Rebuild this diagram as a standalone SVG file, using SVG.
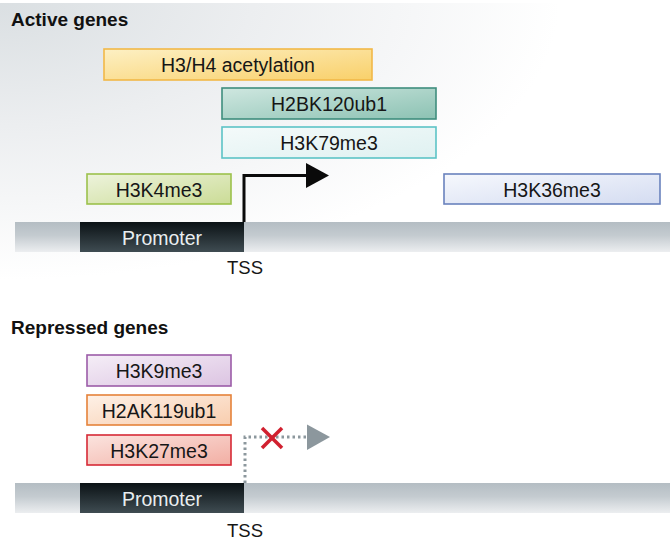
<svg xmlns="http://www.w3.org/2000/svg" width="672" height="542" viewBox="0 0 672 542">
<style>
  .title{font-family:"Liberation Sans",Arial,sans-serif;font-weight:bold;font-size:19px;fill:#111}
  .lbl{font-family:"Liberation Sans",Arial,sans-serif;font-size:19.5px;fill:#161616;text-anchor:middle}
  .prom{font-family:"Liberation Sans",Arial,sans-serif;font-size:19.5px;fill:#e9eef0;text-anchor:middle}
  .tss{font-family:"Liberation Sans",Arial,sans-serif;font-size:18.5px;fill:#161616;text-anchor:middle}
  .box{stroke-width:1.6}
</style>
<defs>
  <radialGradient id="bg" gradientUnits="userSpaceOnUse" cx="0" cy="0" r="560" gradientTransform="scale(1 0.5)">
    <stop offset="0" stop-color="#dadfe2"/>
    <stop offset="0.45" stop-color="#eceef0"/>
    <stop offset="1" stop-color="#ffffff"/>
  </radialGradient>
  <linearGradient id="bar" x1="0" y1="0" x2="0" y2="1">
    <stop offset="0" stop-color="#b4bdc3"/>
    <stop offset="0.45" stop-color="#c4cbd0"/>
    <stop offset="1" stop-color="#eceef0"/>
  </linearGradient>
  <linearGradient id="promg" x1="0" y1="0" x2="0" y2="1">
    <stop offset="0" stop-color="#0b1215"/>
    <stop offset="1" stop-color="#3f4c52"/>
  </linearGradient>
  <linearGradient id="gY" x1="0" y1="0" x2="1" y2="1"><stop offset="0" stop-color="#fdf0c4"/><stop offset="1" stop-color="#f9d06a"/></linearGradient>
  <linearGradient id="gT" x1="0" y1="0" x2="1" y2="1"><stop offset="0" stop-color="#cfe7e0"/><stop offset="1" stop-color="#8cc2b3"/></linearGradient>
  <linearGradient id="gC" x1="0" y1="0" x2="1" y2="1"><stop offset="0" stop-color="#f4fafa"/><stop offset="1" stop-color="#dff1f1"/></linearGradient>
  <linearGradient id="gG" x1="0" y1="0" x2="1" y2="1"><stop offset="0" stop-color="#edf3dc"/><stop offset="1" stop-color="#cbdc96"/></linearGradient>
  <linearGradient id="gB" x1="0" y1="0" x2="1" y2="1"><stop offset="0" stop-color="#f6f8fd"/><stop offset="1" stop-color="#d4dcf1"/></linearGradient>
  <linearGradient id="gP" x1="0" y1="0" x2="1" y2="1"><stop offset="0" stop-color="#f5eef7"/><stop offset="1" stop-color="#dcc4e2"/></linearGradient>
  <linearGradient id="gO" x1="0" y1="0" x2="1" y2="1"><stop offset="0" stop-color="#fef1e7"/><stop offset="1" stop-color="#f8cdae"/></linearGradient>
  <linearGradient id="gR" x1="0" y1="0" x2="1" y2="1"><stop offset="0" stop-color="#fbe4df"/><stop offset="1" stop-color="#f2aea3"/></linearGradient>
</defs>

<rect x="0" y="0" width="672" height="542" fill="#ffffff"/>
<rect x="0" y="3" width="672" height="300" fill="url(#bg)"/>
<rect x="0" y="312" width="672" height="230" fill="url(#bg)"/>

<text class="title" x="11" y="26">Active genes</text>
<text class="title" x="11" y="334">Repressed genes</text>

<!-- Active section -->
<g id="dna-active">
  <rect x="15" y="222" width="655" height="30" fill="url(#bar)"/>
  <rect x="80" y="222" width="164" height="30" fill="url(#promg)"/>
  <text class="prom" x="162" y="245">Promoter</text>
  <text class="tss" x="245" y="274">TSS</text>
</g>
<g id="h3h4ac">
  <rect class="box" x="104" y="49" width="268" height="31" fill="url(#gY)" stroke="#f2b848"/>
  <text class="lbl" x="238" y="71.5">H3/H4 acetylation</text>
</g>
<g id="h2bk120ub1">
  <rect class="box" x="222" y="88" width="214" height="31" fill="url(#gT)" stroke="#3f8e7e"/>
  <text class="lbl" x="329" y="110.5">H2BK120ub1</text>
</g>
<g id="h3k79me3">
  <rect class="box" x="222" y="127" width="214" height="31" fill="url(#gC)" stroke="#5cc3c6"/>
  <text class="lbl" x="329" y="149.5">H3K79me3</text>
</g>
<g id="h3k4me3">
  <rect class="box" x="87" y="174" width="144" height="30" fill="url(#gG)" stroke="#9cc14c"/>
  <text class="lbl" x="159" y="196.5">H3K4me3</text>
</g>
<g id="h3k36me3">
  <rect class="box" x="444" y="174" width="216" height="30" fill="url(#gB)" stroke="#6a82bd"/>
  <text class="lbl" x="552" y="196.5">H3K36me3</text>
</g>

<!-- Repressed section -->
<g id="dna-repressed">
  <rect x="15" y="483" width="655" height="30" fill="url(#bar)"/>
  <rect x="80" y="483" width="164" height="30" fill="url(#promg)"/>
  <text class="prom" x="162" y="506">Promoter</text>
  <text class="tss" x="245" y="537">TSS</text>
</g>
<g id="h3k9me3">
  <rect class="box" x="87" y="355" width="144" height="31" fill="url(#gP)" stroke="#9c5ca8"/>
  <text class="lbl" x="159" y="377.5">H3K9me3</text>
</g>
<g id="h2ak119ub1">
  <rect class="box" x="87" y="395" width="144" height="30" fill="url(#gO)" stroke="#e5823a"/>
  <text class="lbl" x="159" y="417.5">H2AK119ub1</text>
</g>
<g id="h3k27me3">
  <rect class="box" x="87" y="435" width="144" height="30" fill="url(#gR)" stroke="#d62a36"/>
  <text class="lbl" x="159" y="457.5">H3K27me3</text>
</g>

<g id="connectors">
  <path d="M244,222 V175.5 H308" fill="none" stroke="#0a0a0a" stroke-width="3"/>
  <polygon points="306,163 329,175.5 306,188" fill="#0a0a0a"/>
  <path d="M245,483 V437 H308" fill="none" stroke="#8c979d" stroke-width="3" stroke-dasharray="2.5,3"/>
  <polygon points="307,424.5 330,437 307,450" fill="#8c979d"/>
  <g stroke="#d1202f" stroke-width="3.5" stroke-linecap="butt">
    <line x1="262" y1="428" x2="282" y2="448"/>
    <line x1="282" y1="428" x2="262" y2="448"/>
  </g>
</g>
</svg>
